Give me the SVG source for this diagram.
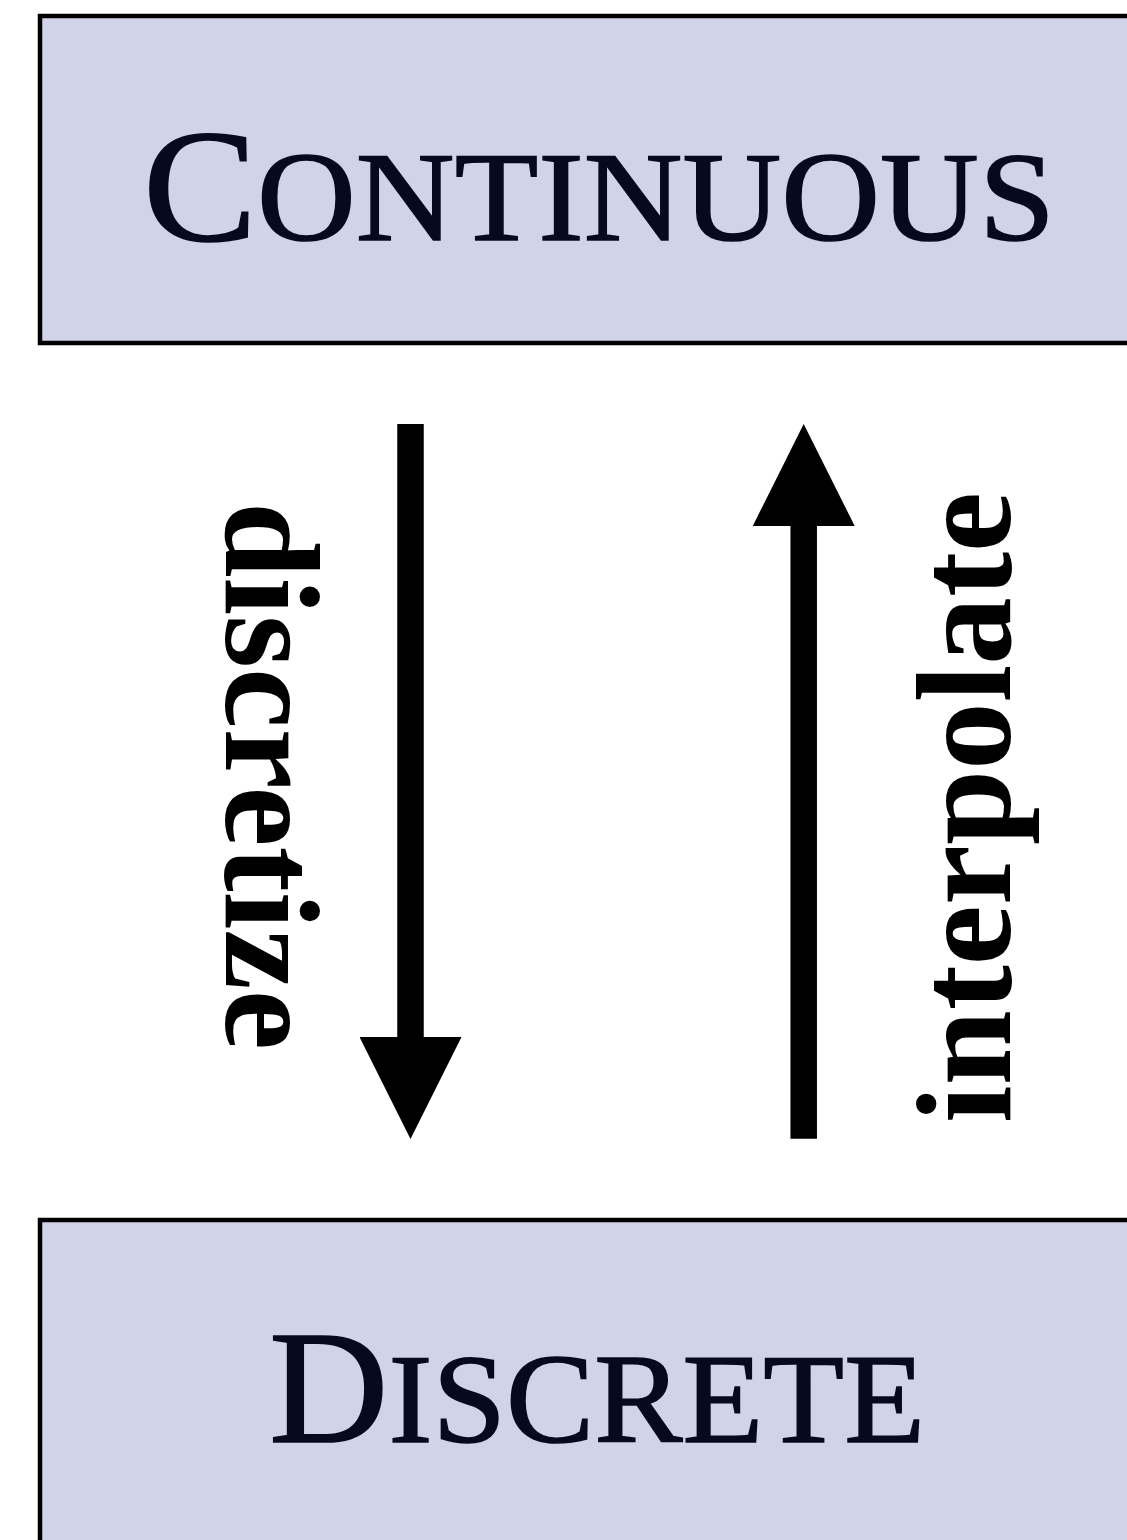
<svg xmlns="http://www.w3.org/2000/svg" width="1127" height="1540" viewBox="0 0 1127 1540">
  <style>
    .box { fill: #d1d3e8; stroke: #000; stroke-width: 4.5; }
    .title { font-family: "Liberation Serif", "DejaVu Serif", serif; fill: #070a1e; stroke: #070a1e; stroke-width: 1.6; }
    .label { font-family: "Liberation Serif", "DejaVu Serif", serif; font-weight: bold; font-size: 135px; fill: #000; }
    .conn { stroke: #000; stroke-width: 26.5; fill: none; marker-end: url(#head); }
  </style>
  <defs>
    <marker id="head" markerUnits="userSpaceOnUse" markerWidth="102" markerHeight="102" refX="0" refY="51" orient="auto" viewBox="0 0 102 102">
      <path d="M0,0 L102,51 L0,102 Z" fill="#000"/>
    </marker>
  </defs>
  <rect width="1127" height="1540" fill="#fff"/>
  <g id="continuous">
    <rect class="box" x="40" y="16" width="1120" height="327"/>
    <text class="title" x="143" y="240" textLength="912" lengthAdjust="spacingAndGlyphs"><tspan font-size="160">C</tspan><tspan font-size="128">ONTINUOUS</tspan></text>
  </g>
  <g id="discrete">
    <rect class="box" x="40" y="1220" width="1120" height="340"/>
    <text class="title" x="269" y="1442" textLength="656" lengthAdjust="spacingAndGlyphs"><tspan font-size="160">D</tspan><tspan font-size="128">ISCRETE</tspan></text>
  </g>
  <g id="connectors">
    <line class="conn" x1="410.5" y1="424" x2="410.5" y2="1037"/>
    <line class="conn" x1="803.7" y1="1138.7" x2="803.7" y2="526"/>
  </g>
  <g id="labels">
    <text class="label" transform="translate(226,502) rotate(90)" x="0" y="0" textLength="548" lengthAdjust="spacingAndGlyphs">discretize</text>
    <text class="label" transform="translate(1010,1123) rotate(-90)" x="0" y="0" textLength="631" lengthAdjust="spacingAndGlyphs">interpolate</text>
  </g>
</svg>
